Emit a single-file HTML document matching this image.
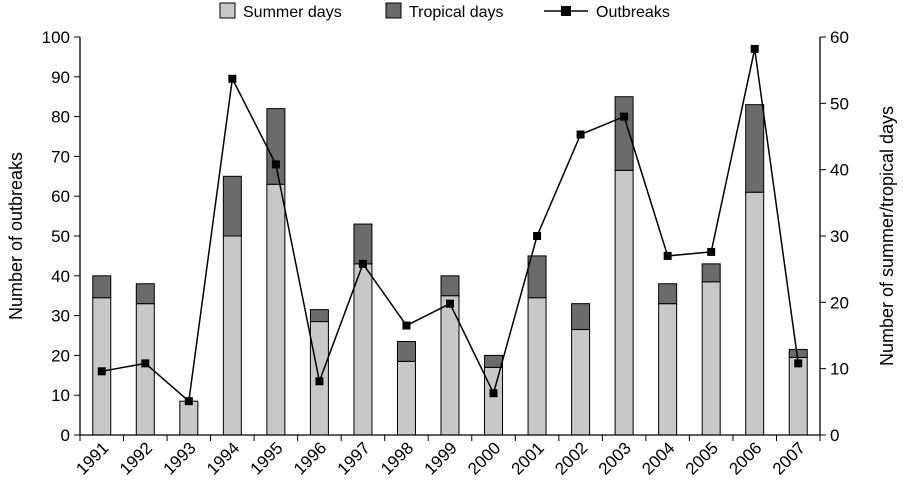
<!DOCTYPE html>
<html><head><meta charset="utf-8"><style>
body{margin:0;background:#fff;}
svg text{font-family:"Liberation Sans",Arial,sans-serif;fill:#000;}
</style></head><body>
<svg id="c" width="903" height="496" xmlns="http://www.w3.org/2000/svg">
<g>
 <rect x="220" y="3" width="15" height="15" fill="#c8c8c8" stroke="#000"/>
 <text x="243" y="17" font-size="16">Summer days</text>
 <rect x="386" y="3" width="15" height="15" fill="#6b6b6b" stroke="#000"/>
 <text x="409" y="17" font-size="16">Tropical days</text>
 <line x1="544" y1="11" x2="588" y2="11" stroke="#000" stroke-width="1.5"/>
 <rect x="561" y="6" width="10" height="10" fill="#000"/>
 <text x="596" y="17" font-size="16">Outbreaks</text>
</g>
<g id="plot"></g>
</svg>
<script>
const years=["1991","1992","1993","1994","1995","1996","1997","1998","1999","2000","2001","2002","2003","2004","2005","2006","2007"];
const summerDays=[20.7,19.8,5.1,30,37.8,17.1,25.8,11.1,21,10.2,20.7,15.9,39.9,19.8,23.1,36.6,11.7];
const tropicalDays=[3.3,3,0,9,11.4,1.8,6,3,3,1.8,6.3,3.9,11.1,3,2.7,13.2,1.2];
const outbreaks=[16,18,8.5,89.5,68,13.5,43,27.5,33,10.5,50,75.5,80,45,46,97,18];
const leftTicks=[0,10,20,30,40,50,60,70,80,90,100];
const rightTicks=[0,10,20,30,40,50,60];
const X0=80,X1=820,Y0=435,Y1=37;
const step=(X1-X0)/years.length;
const xc=i=>X0+step*(i+0.5);
const yL=v=>Y0-(Y0-Y1)*v/100;
const yR=v=>Y0-(Y0-Y1)*v/60;
const NS="http://www.w3.org/2000/svg";
const g=document.getElementById('plot');
function mk(t,a){const e=document.createElementNS(NS,t);for(const k in a)e.setAttribute(k,a[k]);g.appendChild(e);return e;}
const bw=18;
years.forEach((y,i)=>{
 const s=mk('rect',{x:xc(i)-bw/2,y:yR(summerDays[i]),width:bw,height:Y0-yR(summerDays[i]),fill:'#c8c8c8',stroke:'#000','stroke-width':1});
 
 
 if(tropicalDays[i]>0){
 const t=mk('rect',{x:xc(i)-bw/2,y:yR(summerDays[i]+tropicalDays[i]),width:bw,height:yR(summerDays[i])-yR(summerDays[i]+tropicalDays[i]),fill:'#6b6b6b',stroke:'#000','stroke-width':1});
 
 
 }
});
// axes
let a=mk('line',{x1:X0,y1:Y1,x2:X0,y2:Y0,stroke:'#000','stroke-width':1.3});

a=mk('line',{x1:X1,y1:Y1,x2:X1,y2:Y0,stroke:'#000','stroke-width':1.3});

a=mk('line',{x1:X0,y1:Y0,x2:X1,y2:Y0,stroke:'#000','stroke-width':1.3});

leftTicks.forEach(v=>{
 mk('line',{x1:X0-6,y1:yL(v),x2:X0,y2:yL(v),stroke:'#000'});
 const t=mk('text',{x:X0-10,y:yL(v)+6,'font-size':17,'text-anchor':'end'});t.textContent=v;
 
 
});
rightTicks.forEach(v=>{
 mk('line',{x1:X1,y1:yR(v),x2:X1+6,y2:yR(v),stroke:'#000'});
 const t=mk('text',{x:X1+10,y:yR(v)+6,'font-size':17});t.textContent=v;
 
 
});
years.forEach((y,i)=>{
 mk('line',{x1:X0+step*(i+1),y1:Y0,x2:X0+step*(i+1),y2:Y0+6,stroke:'#000'});
 const t=mk('text',{x:xc(i)+8,y:Y0+14,'font-size':17,'text-anchor':'end',transform:`rotate(-45 ${xc(i)+8} ${Y0+14})`});
 t.textContent=y;
 
 
});
mk('line',{x1:X0,y1:Y0,x2:X0,y2:Y0+6,stroke:'#000'});
const pts=outbreaks.map((v,i)=>xc(i)+','+yL(v)).join(' ');
const pl=mk('polyline',{points:pts,fill:'none',stroke:'#000','stroke-width':1.5});


outbreaks.forEach((v,i)=>{
 const m=mk('rect',{x:xc(i)-4,y:yL(v)-4,width:8,height:8,fill:'#000'});
 
 
});
let t=mk('text',{x:22,y:236,'font-size':18,'text-anchor':'middle',transform:'rotate(-90 22 236)'});
t.textContent='Number of outbreaks';

t=mk('text',{x:893,y:236,'font-size':18,'text-anchor':'middle',transform:'rotate(-90 893 236)'});
t.textContent='Number of summer/tropical days';

</script>
</body></html>
